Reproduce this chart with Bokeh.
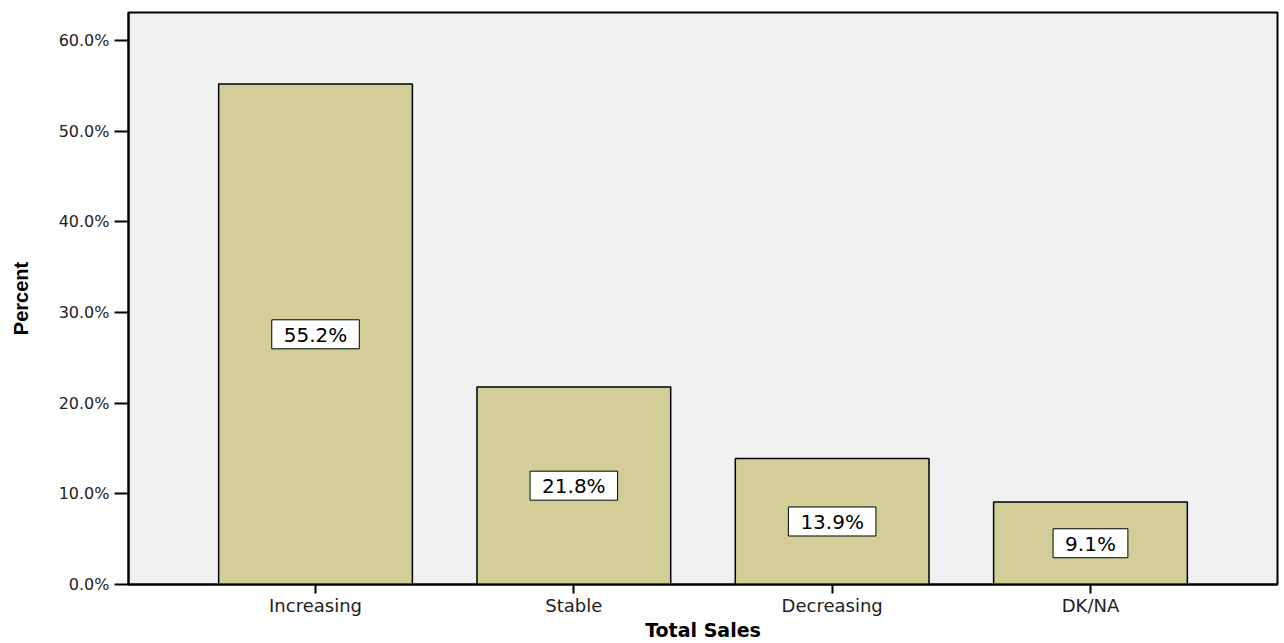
from bokeh.plotting import figure
from bokeh.models import Range1d, FixedTicker, PrintfTickFormatter, ColumnDataSource
from bokeh.core.properties import value
from bokeh.embed import file_html
from bokeh.resources import INLINE

categories = ["Increasing", "Stable", "Decreasing", "DK/NA"]
percent = [55.2, 21.8, 13.9, 9.1]
labels = ["55.2%", "21.8%", "13.9%", "9.1%"]
y_ticks = [0, 10, 20, 30, 40, 50, 60]

xs = list(range(len(categories)))
src = ColumnDataSource(dict(x=xs, top=percent, mid=[v / 2 for v in percent], lab=labels))

p = figure(width=1284, height=643, output_backend="svg", toolbar_location=None,
           x_range=Range1d(-0.724, 3.724), y_range=Range1d(0, 63.1),
           min_border_left=128, min_border_right=7, min_border_top=12, min_border_bottom=59)
p.background_fill_color = "#F0F1F0"
p.border_fill_color = "white"
p.outline_line_color = "black"
p.outline_line_width = 2
p.grid.visible = False

p.vbar(x="x", top="top", width=0.75, bottom=0, source=src,
       fill_color="#D3CE97", line_color="black", line_width=1.5)

p.text(x="x", y="mid", text="lab", source=src,
       text_align="center", text_baseline="middle",
       text_font=value("DejaVu Sans"), text_font_size="20px", text_color="black",
       background_fill_color="white", border_line_color="black",
       border_line_width=1, padding=[12, 12, 3, 2])

p.xaxis.ticker = FixedTicker(ticks=xs)
p.xaxis.major_label_overrides = {i: c for i, c in enumerate(categories)}
p.xaxis.axis_label = "Total Sales"
p.yaxis.axis_label = "Percent"
p.yaxis.ticker = FixedTicker(ticks=y_ticks)
p.yaxis.formatter = PrintfTickFormatter(format="%.1f%%")

for ax in (p.xaxis[0], p.yaxis[0]):
    ax.axis_line_color = "black"
    ax.axis_line_width = 2
    ax.major_tick_line_color = "black"
    ax.major_tick_line_width = 2
    ax.major_tick_in = 0
    ax.minor_tick_line_color = None
    ax.major_label_text_font = "DejaVu Sans"
    ax.major_label_text_color = "#222222"
    ax.axis_label_text_font_style = "bold"
    ax.axis_label_text_color = "black"

p.yaxis.major_tick_out = 14
p.yaxis.major_label_text_font_size = "16px"
p.yaxis.major_label_standoff = 5
p.yaxis.axis_label_text_font = "Liberation Sans"
p.yaxis.axis_label_text_font_size = "20px"
p.yaxis.axis_label_standoff = 24

p.xaxis.major_tick_out = 9
p.xaxis.major_label_text_font_size = "18px"
p.xaxis.major_label_standoff = 1
p.xaxis.axis_label_text_font = "DejaVu Sans"
p.xaxis.axis_label_text_font_size = "19px"
p.xaxis.axis_label_standoff = 0

open("out.html", "w").write(file_html(p, INLINE))
